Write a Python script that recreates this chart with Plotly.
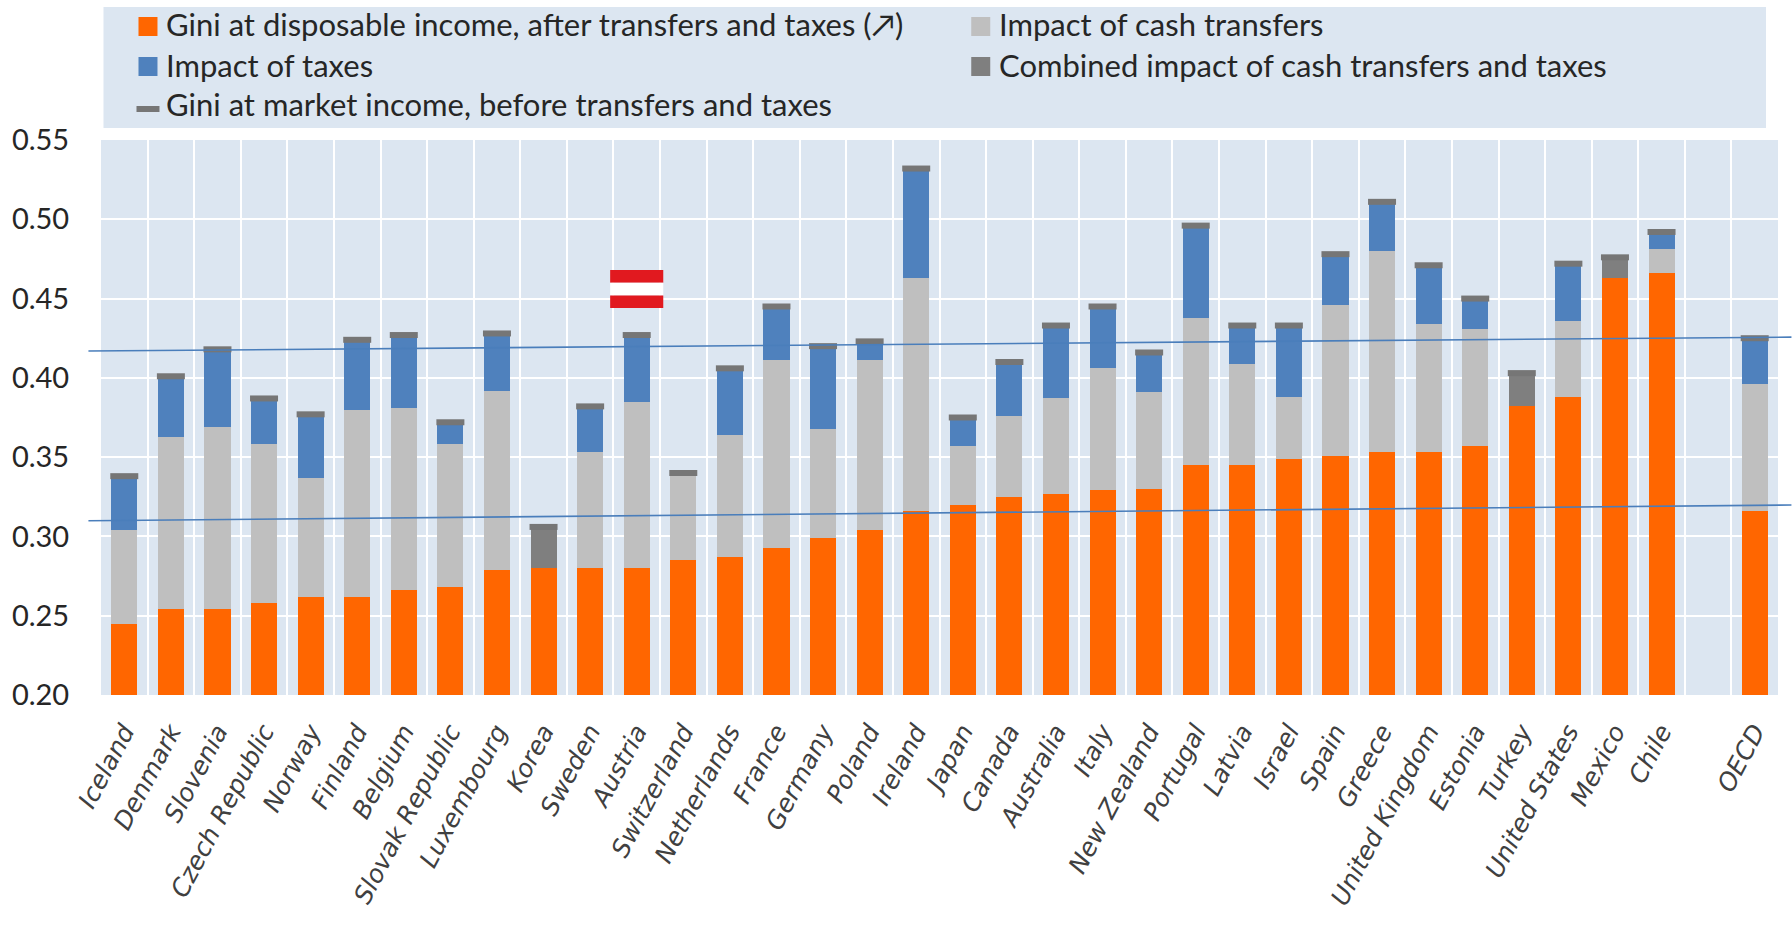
"""Gini before and after transfers and taxes, OECD countries."""
import plotly.graph_objects as go

WIDTH, HEIGHT = 1792, 925
LEFT, RIGHT, TOP, BOTTOM = 100.5, 1778, 140, 695
PANEL = "#DCE6F1"
FONT = "Lato"

COUNTRIES = [
    "Iceland", "Denmark", "Slovenia", "Czech Republic", "Norway", "Finland",
    "Belgium", "Slovak Republic", "Luxembourg", "Korea", "Sweden", "Austria",
    "Switzerland", "Netherlands", "France", "Germany", "Poland", "Ireland",
    "Japan", "Canada", "Australia", "Italy", "New Zealand", "Portugal",
    "Latvia", "Israel", "Spain", "Greece", "United Kingdom", "Estonia",
    "Turkey", "United States", "Mexico", "Chile", " ", "OECD",
]

# Levels; None = no such segment for the country
GINI_DISPOSABLE = [
    .245, .254, .254, .258, .262, .262, .266, .268, .279, .280, .280, .280,
    .285, .287, .293, .299, .304, .316, .320, .325, .327, .329, .330, .345,
    .345, .349, .351, .353, .353, .357, .382, .388, .463, .466, None, .316,
]
TOP_TRANSFERS = [
    .304, .363, .369, .358, .337, .380, .381, .358, .392, None, .353, .385,
    .339, .364, .411, .368, .411, .463, .357, .376, .387, .406, .391, .438,
    .409, .388, .446, .480, .434, .431, None, .436, None, .481, None, .396,
]
TOP_TAXES = [
    .337, .400, .418, .386, .376, .423, .426, .371, .427, None, .381, .426,
    None, .405, .444, .419, .422, .532, .376, .410, .434, .444, .415, .496,
    .432, .434, .478, .511, .470, .449, None, .472, None, .491, None, .424,
]
TOP_COMBINED = {"Korea": .306, "Turkey": .403, "Mexico": .477}
GINI_MARKET = [
    .338, .401, .418, .387, .377, .424, .427, .372, .428, .306, .382, .427,
    .340, .406, .445, .420, .423, .532, .375, .410, .433, .445, .416, .496,
    .433, .433, .478, .511, .471, .450, .403, .472, .476, .492, None, .425,
]

SERIES_COLORS = {
    "disposable": "#FF6600",
    "transfers": "#BFBFBF",
    "taxes": "#4F81BD",
    "combined": "#7F7F7F",
    "market": "#767676",
}


def seg(top, bottom):
    return [None if t is None or b is None else round(t - b, 3) for t, b in zip(top, bottom)]


def px(x):
    return (x - LEFT) / (RIGHT - LEFT)


def py(y):
    return (BOTTOM - y) / (BOTTOM - TOP)


combined_top = [TOP_COMBINED.get(c) for c in COUNTRIES]

fig = go.Figure()
for name, values, key in [
    ("Gini at disposable income", GINI_DISPOSABLE, "disposable"),
    ("Impact of cash transfers", seg(TOP_TRANSFERS, GINI_DISPOSABLE), "transfers"),
    ("Impact of taxes", seg(TOP_TAXES, TOP_TRANSFERS), "taxes"),
    ("Combined impact", seg(combined_top, GINI_DISPOSABLE), "combined"),
]:
    fig.add_trace(go.Bar(x=COUNTRIES, y=values, name=name, marker_color=SERIES_COLORS[key],
                         marker_line_width=0))
fig.add_trace(go.Scatter(
    x=COUNTRIES, y=GINI_MARKET, mode="markers", name="Gini at market income",
    marker=dict(symbol="line-ew", size=20, line=dict(color=SERIES_COLORS["market"], width=6)),
))

shapes = [
    # legend panel
    dict(type="rect", xref="paper", yref="paper", layer="below", line_width=0, fillcolor=PANEL,
         x0=px(103), x1=px(1766), y0=py(128), y1=py(7)),
    # legend swatches
    dict(type="rect", xref="paper", yref="paper", line_width=0, fillcolor=SERIES_COLORS["disposable"],
         x0=px(138), x1=px(157), y0=py(36), y1=py(17)),
    dict(type="rect", xref="paper", yref="paper", line_width=0, fillcolor=SERIES_COLORS["taxes"],
         x0=px(138), x1=px(157), y0=py(76), y1=py(57)),
    dict(type="rect", xref="paper", yref="paper", line_width=0, fillcolor=SERIES_COLORS["market"],
         x0=px(136), x1=px(159), y0=py(112), y1=py(106)),
    dict(type="rect", xref="paper", yref="paper", line_width=0, fillcolor=SERIES_COLORS["transfers"],
         x0=px(971), x1=px(990), y0=py(36), y1=py(17)),
    dict(type="rect", xref="paper", yref="paper", line_width=0, fillcolor=SERIES_COLORS["combined"],
         x0=px(971), x1=px(990), y0=py(76), y1=py(57)),
    # hand-drawn reference lines
    dict(type="line", xref="paper", yref="y", x0=-0.0075, x1=1.008, y0=.4169, y1=.4257,
         line=dict(color="#4A7EBB", width=1.6)),
    dict(type="line", xref="paper", yref="y", x0=-0.0075, x1=1.008, y0=.3099, y1=.3198,
         line=dict(color="#4A7EBB", width=1.6)),
]
# Austrian flag above the Austria bar
for y0, y1, color in [(.460, .468, "#E1191F"), (.452, .460, "#FFFFFF"), (.444, .452, "#E1191F")]:
    shapes.append(dict(type="rect", xref="x", yref="y", line_width=0, fillcolor=color,
                       x0=10.43, x1=11.57, y0=y0, y1=y1))

annotations = [
    dict(text=text, x=px(x), y=py(y), xref="paper", yref="paper", xanchor="left", yanchor="middle",
         showarrow=False, font=dict(family=FONT, size=31, color="#262626"))
    for text, x, y in [
        ("Gini at disposable income, after transfers and taxes (↗)", 164, 24),
        ("Impact of taxes", 164, 65),
        ("Gini at market income, before transfers and taxes", 164, 104),
        ("Impact of cash transfers", 997, 24),
        ("Combined impact of cash transfers and taxes", 997, 65),
    ]
]

fig.update_layout(
    width=WIDTH, height=HEIGHT, autosize=False,
    margin=dict(l=LEFT, r=WIDTH - RIGHT, t=TOP, b=HEIGHT - BOTTOM, pad=0, autoexpand=False),
    barmode="stack", bargap=0.44, showlegend=False,
    plot_bgcolor=PANEL, paper_bgcolor="white",
    font=dict(family=FONT, color="#262626"),
    shapes=shapes, annotations=annotations,
)
fig.update_xaxes(
    type="category", categoryorder="array", categoryarray=COUNTRIES, range=[-0.5, 35.5],
    tickmode="array", tickvals=COUNTRIES, ticktext=[f"<i>{c}</i>" for c in COUNTRIES],
    tickson="boundaries", showgrid=True, gridcolor="white", gridwidth=2, showline=False,
    zeroline=False, ticks="", ticklabelstandoff=16, tickangle=-62,
    tickfont=dict(family="DejaVu Sans", size=25, color="#404040"),
)
fig.update_yaxes(
    range=[.20, .55], dtick=.05, tickformat=".2f", showgrid=True, gridcolor="white", gridwidth=2,
    zeroline=False, showline=False, ticks="outside", ticklen=25, tickcolor="rgba(0,0,0,0)",
    tickfont=dict(family=FONT, size=29, color="#262626"),
)

fig.write_html(
    "out.html",
    config={"displayModeBar": False},
    post_script="document.body.style.margin='0';document.body.style.overflow='hidden';",
)
